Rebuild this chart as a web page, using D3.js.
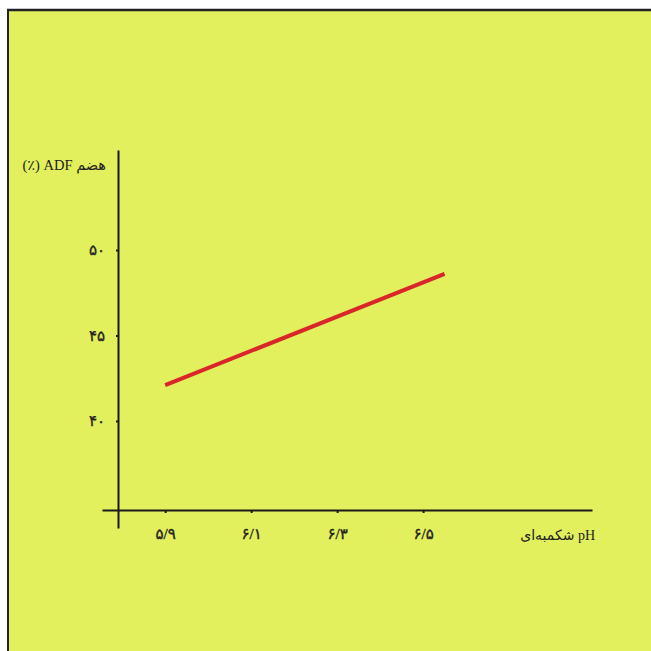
<!DOCTYPE html>
<html><head><meta charset="utf-8">
<script src="https://cdn.jsdelivr.net/npm/d3@7"></script>
<style>html,body{margin:0;padding:0;background:#fff;}svg{display:block;}</style>
</head><body>
<svg id="c" width="651" height="651"></svg>
<script>
// data
const phValues = [5.9, 6.55];
const adfValues = [42.1, 48.6];
const xTickValues = [5.9, 6.1, 6.3, 6.5];
const xTickLabels = ["۵/۹", "۶/۱", "۶/۳", "۶/۵"];
const yTickValues = [40, 45, 50];
const yTickLabels = ["۴۰", "۴۵", "۵۰"];
const xTitle = "شکمبه‌ای pH";
const yTitle = "(٪) ADF هضم";

const svg = d3.select("#c");
const font = "'Liberation Serif', 'DejaVu Sans', serif";

// panel
svg.append("rect").attr("x", 8).attr("y", 10).attr("width", 643).attr("height", 641).attr("fill", "#e1f05c");
svg.append("line").attr("x1", 8).attr("x2", 8).attr("y1", 9).attr("y2", 651).attr("stroke", "#222").attr("stroke-width", 2);
svg.append("line").attr("x1", 7).attr("x2", 651).attr("y1", 10).attr("y2", 10).attr("stroke", "#222").attr("stroke-width", 2.5);

const x = d3.scaleLinear().domain([5.753, 6.893]).range([102, 592]);
const y = d3.scaleLinear().domain([33.74, 55.85]).range([528, 150]);
const x0 = 118, y0 = 510;

const xa = svg.append("g").attr("transform", `translate(0,${y0})`)
  .call(d3.axisBottom(x).tickValues(xTickValues).tickSize(3).tickSizeOuter(0).tickPadding(15)
    .tickFormat((d, i) => xTickLabels[i]));
xa.select(".domain").attr("stroke", "#1a1a1a").attr("stroke-width", 2);
xa.selectAll(".tick line").attr("stroke", "#1a1a1a").attr("stroke-width", 2);
xa.selectAll(".tick text").attr("font-family", font).attr("font-size", 15).attr("letter-spacing", 1.5)
  .attr("fill", "#222").attr("stroke", "#222").attr("stroke-width", 0.35);

const ya = svg.append("g").attr("transform", `translate(${x0},0)`)
  .call(d3.axisLeft(y).tickValues(yTickValues).tickSize(2).tickSizeOuter(0).tickPadding(11)
    .tickFormat((d, i) => yTickLabels[i]));
ya.select(".domain").attr("stroke", "#1a1a1a").attr("stroke-width", 2);
ya.selectAll(".tick line").attr("stroke", "#1a1a1a").attr("stroke-width", 2);
ya.selectAll(".tick text").attr("font-family", font).attr("font-size", 15).attr("letter-spacing", 1.5)
  .attr("fill", "#222").attr("stroke", "#222").attr("stroke-width", 0.35);

// titles
svg.append("text").attr("x", 595).attr("y", 540).attr("text-anchor", "end")
  .attr("font-family", font).attr("font-size", 14).attr("fill", "#222").text(xTitle);
svg.append("text").attr("x", 106).attr("y", 170).attr("text-anchor", "end")
  .attr("font-family", font).attr("font-size", 14.5).attr("fill", "#222").text(yTitle);

// line
const pts = phValues.map((p, i) => [p, adfValues[i]]);
svg.append("path").datum(pts)
  .attr("d", d3.line().x(d => x(d[0])).y(d => y(d[1])))
  .attr("fill", "none").attr("stroke", "#d8262a").attr("stroke-width", 4);
</script>
</body></html>
